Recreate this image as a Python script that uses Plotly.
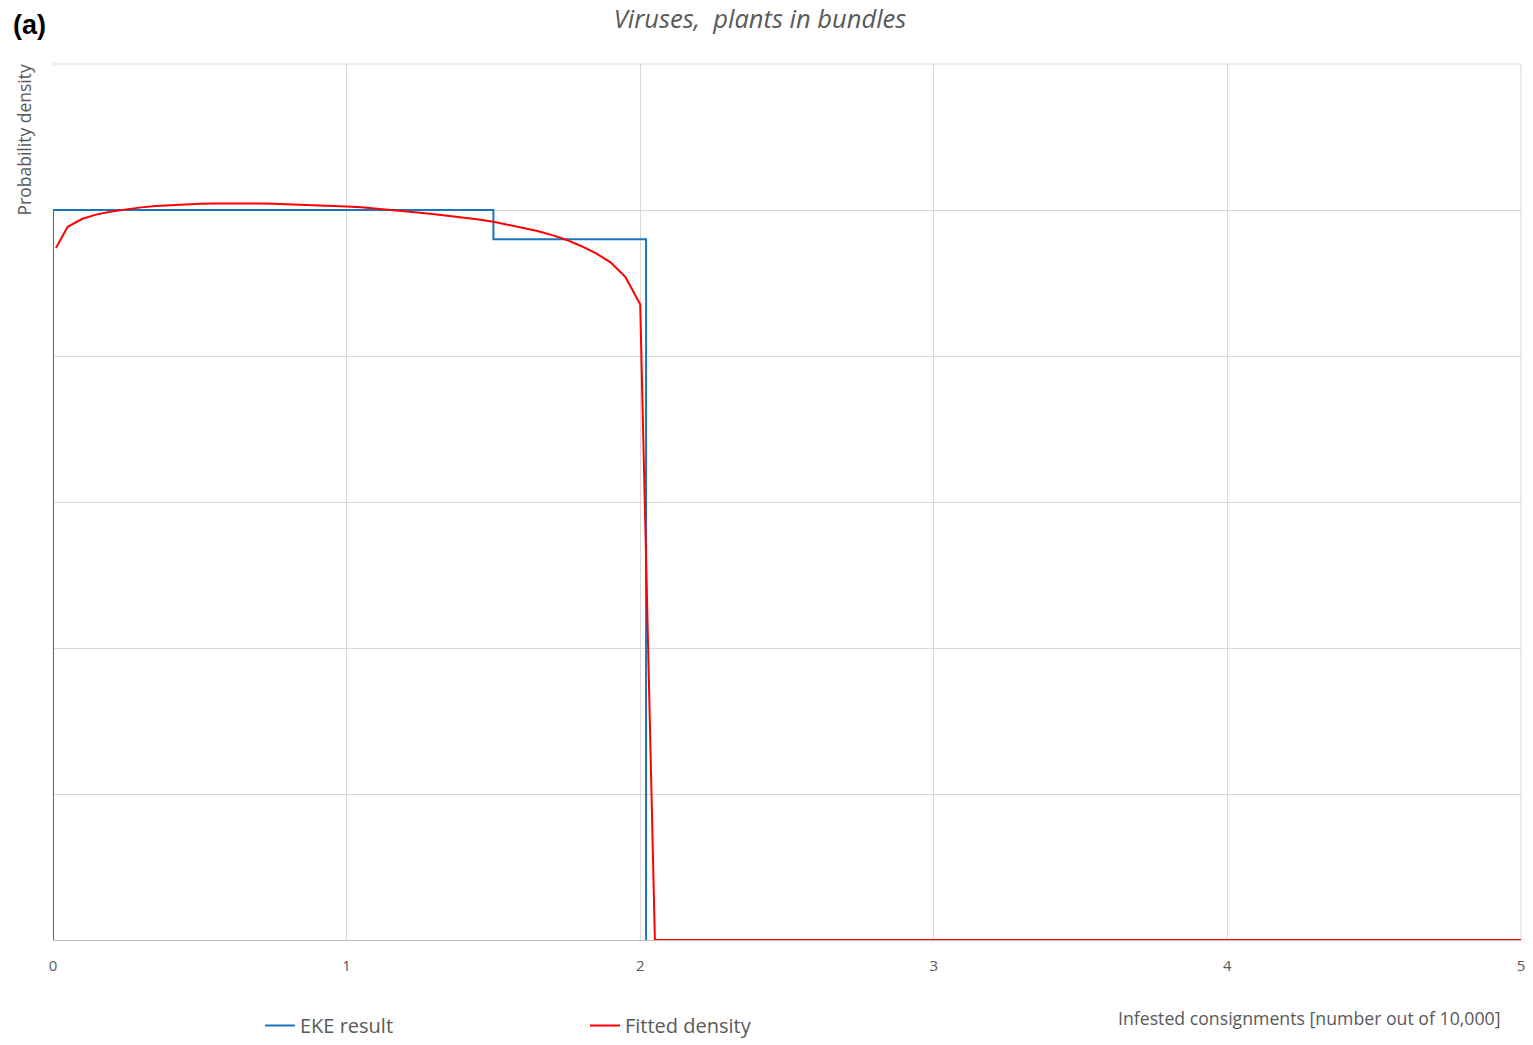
import plotly.graph_objects as go

# EKE result (step density)
eke_x = [0, 0, 1.5, 1.5, 2.02, 2.02]
eke_y = [0, 0.5, 0.5, 0.48, 0.48, 0]

# Fitted density
fit_x = [0.01, 0.05, 0.10, 0.15, 0.20, 0.25, 0.30, 0.35, 0.40, 0.45, 0.50, 0.55,
         0.60, 0.65, 0.70, 0.75, 0.80, 0.85, 0.90, 0.95, 1.00, 1.05, 1.10, 1.15,
         1.20, 1.25, 1.30, 1.35, 1.40, 1.45, 1.50, 1.55, 1.60, 1.65, 1.70, 1.75,
         1.80, 1.85, 1.90, 1.95, 2.00, 2.05, 5.00]
fit_y = [0.4740, 0.4885, 0.4940, 0.4970, 0.4990, 0.5005, 0.5018, 0.5027, 0.5034,
         0.5039, 0.5043, 0.5045, 0.5046, 0.5046, 0.5045, 0.5043, 0.5040, 0.5037,
         0.5033, 0.5029, 0.5024, 0.5018, 0.5010, 0.5000, 0.4992, 0.4982, 0.4971,
         0.4960, 0.4948, 0.4935, 0.4920, 0.4900, 0.4880, 0.4856, 0.4828, 0.4795,
         0.4752, 0.4703, 0.4640, 0.4540, 0.4355, 0.0, 0.0]

x_ticks = [0, 1, 2, 3, 4, 5]
y_grid = [0, 0.1, 0.2, 0.3, 0.4, 0.5, 0.6]

gray = "#595959"
grid = "#d9d9d9"
font = "Open Sans, Liberation Sans, sans-serif"

fig = go.Figure()
fig.add_trace(go.Scatter(x=eke_x, y=eke_y, mode="lines", name="EKE result",
                         line=dict(color="#1B75BC", width=2)))
fig.add_trace(go.Scatter(x=fit_x, y=fit_y, mode="lines", name="Fitted density",
                         line=dict(color="#FF0000", width=2)))

fig.update_layout(
    width=1533, height=1045,
    paper_bgcolor="white", plot_bgcolor="white",
    margin=dict(l=53, r=12, t=64, b=105, autoexpand=False),
    title=dict(text="Viruses,  plants in bundles", x=0.4958, xanchor="center",
               y=0.9818, yanchor="middle",
               font=dict(family=font, size=25.5, color=gray, style="italic")),
    xaxis=dict(range=[0, 5], tickvals=x_ticks, ticktext=[str(v) for v in x_ticks],
               showgrid=True, gridcolor=grid, gridwidth=1, automargin=False,
               zeroline=False, showline=True, linecolor="#bfbfbf", linewidth=1,
               ticks="", ticklabelstandoff=12,
               tickfont=dict(family=font, size=15, color=gray)),
    yaxis=dict(range=[0, 0.6], tickvals=y_grid, showticklabels=False,
               showgrid=True, gridcolor=grid, gridwidth=1, automargin=False,
               zeroline=False, showline=False, ticks=""),
    showlegend=True,
    legend=dict(orientation="h", x=0.141, xanchor="left",
                yref="container", y=0.0, yanchor="bottom",
                entrywidth=280, entrywidthmode="pixels", itemwidth=30,
                font=dict(family=font, size=20, color=gray), bgcolor="rgba(0,0,0,0)"),
    shapes=[
        dict(type="line", xref="paper", yref="paper", x0=0, x1=1, y0=1, y1=1,
             line=dict(color=grid, width=1), layer="below"),
        dict(type="line", xref="paper", yref="paper", x0=1, x1=1, y0=0, y1=1,
             line=dict(color=grid, width=1), layer="below"),
    ],
    annotations=[
        dict(text="<b>(a)</b>", xref="paper", yref="paper", x=-0.0157, y=1.0445,
             xanchor="center", yanchor="middle", showarrow=False,
             font=dict(family="Liberation Sans, Arial, sans-serif", size=27, color="black")),
        dict(text="Probability density", xref="paper", yref="paper", x=-0.0191, y=1.0023,
             xanchor="center", yanchor="top", textangle=-90, showarrow=False,
             font=dict(family=font, size=17.5, color=gray)),
        dict(text="Infested consignments [number out of 10,000]", xref="paper", yref="paper",
             x=0.987, y=-0.089, xanchor="right", yanchor="middle", showarrow=False,
             font=dict(family=font, size=17.7, color=gray)),
    ],
)

fig.write_html("out.html", config={"displayModeBar": False},
               post_script="document.body.style.margin='0px';document.body.style.overflow='hidden';")
